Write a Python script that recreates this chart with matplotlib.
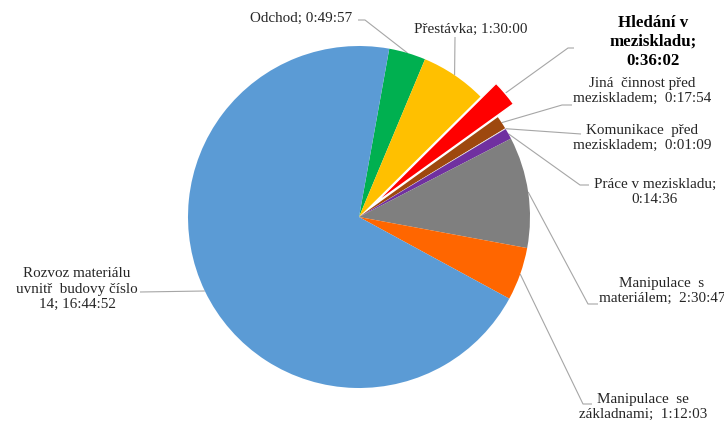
import numpy as np
import matplotlib
matplotlib.use("Agg")
import matplotlib.pyplot as plt

# Time spent per activity (h:mm:ss)
labels = [
    "Odchod; 0:49:57",
    "Přestávka; 1:30:00",
    "Hledání v\nmeziskladu;\n0:36:02",
    "Jiná  činnost před\nmeziskladem;  0:17:54",
    "Komunikace  před\nmeziskladem;  0:01:09",
    "Práce v meziskladu;\n0:14:36",
    "Manipulace  s\nmateriálem;  2:30:47",
    "Manipulace  se\nzákladnami;  1:12:03",
    "Rozvoz materiálu\nuvnitř  budovy číslo\n14; 16:44:52",
]
durations = ["0:49:57", "1:30:00", "0:36:02", "0:17:54", "0:01:09",
             "0:14:36", "2:30:47", "1:12:03", "16:44:52"]
colors = ["#00B050", "#FFC000", "#FF0000", "#9E480E", "#E7E6E6",
          "#7030A0", "#7F7F7F", "#FF6600", "#5B9BD5"]
explode = [0, 0, 0.12, 0, 0, 0, 0, 0, 0]
highlight = 2


def to_seconds(t):
    h, m, s = (int(p) for p in t.split(":"))
    return h * 3600 + m * 60 + s


seconds = [to_seconds(t) for t in durations]

W, H, DPI = 724, 426, 100
CX, CY, R = 359, 217, 171  # pie centre and radius in pixels


def px(x, y):
    return ((x - CX) / R, (CY - y) / R)


fig = plt.figure(figsize=(W / DPI, H / DPI), dpi=DPI)
ax = fig.add_axes([0, 0, 1, 1])

wedges, _ = ax.pie(seconds, colors=colors, explode=explode, startangle=79.8,
                   counterclock=False, radius=1,
                   wedgeprops=dict(linewidth=0))
wedges[highlight].set_edgecolor("white")
wedges[highlight].set_linewidth(1.0)

ax.set_xlim(-CX / R, (W - CX) / R)
ax.set_ylim((CY - H) / R, CY / R)
ax.set_aspect("equal")
ax.axis("off")

# label centres and leader-line bends (pixel layout)
label_pos = [(301, 18), (471, 29), (653, 42), (642, 91), (642, 138),
             (655, 192), (662, 291), (643, 407), (77, 289)]
leader_pts = [
    [(365, 20), (358, 20)],
    [(455, 37)],
    [(568, 48), (574, 48)],
    [(562, 105), (572, 105)],
    [(581, 134)],
    [(580, 185), (589, 185)],
    [(588, 304), (598, 304)],
    [(583, 404), (592, 404)],
    [(140, 292)],
]

for i, (w, lab) in enumerate(zip(wedges, labels)):
    mid = np.deg2rad((w.theta1 + w.theta2) / 2)
    cx, cy = w.center
    start = (cx + w.r * np.cos(mid), cy + w.r * np.sin(mid))
    pts = [start] + [px(*p) for p in leader_pts[i]]
    xs, ys = zip(*pts)
    ax.plot(xs, ys, color="#A6A6A6", lw=0.8, solid_capstyle="butt", zorder=0)

    tx, ty = px(*label_pos[i])
    if i == highlight:
        ax.text(tx, ty, lab, ha="center", va="center", multialignment="center",
                fontsize=12.2, fontweight="bold", family="Liberation Serif",
                color="#000000", linespacing=1.22)
    else:
        ax.text(tx, ty, lab, ha="center", va="center", multialignment="center",
                fontsize=10.9, family="Liberation Serif", color="#262626",
                linespacing=1.25)

fig.savefig("out.png", dpi=DPI, facecolor="white")
